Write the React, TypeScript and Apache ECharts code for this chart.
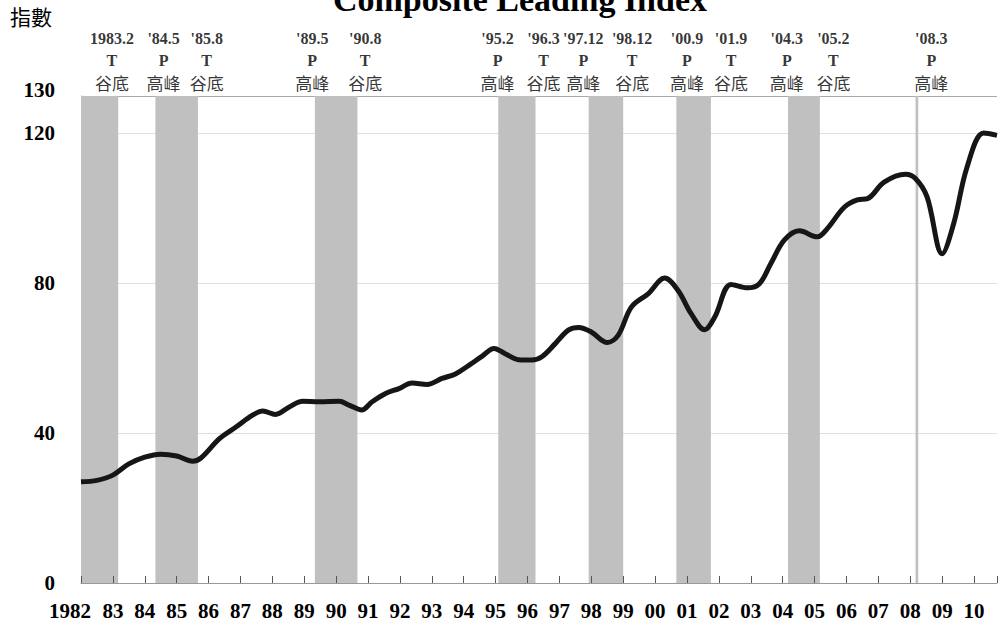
import React, { useEffect, useRef } from "react";
import * as echarts from "echarts";

// Composite leading index readings (decimal year, index value)
const years = [
  1982.0, 1982.5, 1983.0, 1983.5, 1984.0, 1984.5, 1985.0, 1985.5, 1985.75,
  1986.35, 1986.87, 1987.38, 1987.7, 1988.1, 1988.53, 1988.95, 1989.47,
  1990.1, 1990.4, 1990.8, 1991.13, 1991.55, 1991.97, 1992.38, 1992.85,
  1993.32, 1993.74, 1994.16, 1994.57, 1994.95, 1995.3, 1995.72, 1996.13,
  1996.45, 1996.87, 1997.28, 1997.6, 1998.0, 1998.5, 1998.84, 1999.26,
  1999.78, 2000.3, 2000.72, 2001.13, 2001.55, 2001.87, 2002.38, 2002.9,
  2003.27, 2003.63, 2004.05, 2004.52, 2005.09, 2005.4, 2005.93, 2006.34,
  2006.66, 2007.18, 2007.85, 2008.17, 2008.53, 2009.0, 2009.36, 2009.78,
  2010.3, 2010.72,
];
const values = [
  27.0, 27.4, 28.8, 31.8, 33.6, 34.4, 33.9, 32.5, 33.3,
  38.6, 41.7, 44.8, 45.9, 45.0, 47.0, 48.5, 48.4,
  48.5, 47.5, 46.2, 48.4, 50.6, 51.9, 53.4, 53.0,
  54.6, 55.8, 58.1, 60.5, 62.6, 61.2, 59.6, 59.5,
  60.4, 63.9, 67.5, 68.2, 67.0, 64.2, 66.1, 73.7,
  77.2, 81.4, 78.1, 71.9, 67.6, 71.0, 79.7, 78.8,
  79.9, 85.3, 91.5, 94.0, 92.4, 94.6, 100.3, 102.3,
  102.6, 107.0, 109.1, 107.9, 103.0, 87.9, 95.9, 111.0,
  120.1, 119.5,
];

// Turning points (year, month)
const peakDates = ["1984.5", "1989.5", "1995.2", "1997.12", "2000.9", "2004.3", "2008.3"];
const troughDates = ["1983.2", "1985.8", "1990.8", "1996.3", "1998.12", "2001.9", "2005.2"];

// Annotation texts above the chart
const turnLabels = ["1983.2", "'84.5", "'85.8", "'89.5", "'90.8", "'95.2", "'96.3", "'97.12", "'98.12", "'00.9", "'01.9", "'04.3", "'05.2", "'08.3"];
const turnTypes = ["T", "P", "T", "P", "T", "P", "T", "P", "T", "P", "T", "P", "T", "P"];
const turnLabelAt = [1982.97, 1984.59, 1985.94, 1989.25, 1990.91, 1995.06, 1996.5, 1997.75, 1999.28, 2001.0, 2002.38, 2004.13, 2005.59, 2008.66];

const X_MIN = 1982;
const X_MAX = 2010.72;
const Y_MIN = 0;
const Y_MAX = 130;
const Y_STEP = 40;

const titleText = "Composite Leading Index";
const yName = "指數";

function monthStart(d: string) {
  const [y, m] = d.split(".").map(Number);
  return y + (m - 1) / 12;
}
function monthEnd(d: string) {
  const [y, m] = d.split(".").map(Number);
  return y + m / 12;
}

export default function App() {
  const ref = useRef<HTMLDivElement>(null);
  useEffect(() => {
    document.body.style.margin = "0";
    const chart = echarts.init(ref.current!, null, { renderer: "svg" });
    const serif = "'Liberation Serif', 'Times New Roman', serif";
    const cjk = "'Noto Sans CJK TC', 'Noto Sans CJK SC', sans-serif";

    // recession bands: first band starts before the axis minimum
    const starts = [X_MIN, ...peakDates.map(monthStart)];
    const ends = [...troughDates.map(monthEnd), monthEnd(peakDates[peakDates.length - 1])];
    const bands = starts.map((s, i) => [{ xAxis: s }, { xAxis: ends[i] }]);

    const lineData = years.map((y, i) => [y, values[i]]);
    const annData = turnLabelAt.map((x, i) => ({
      value: [x, Y_MAX],
      label: {
        formatter:
          "{d|" + turnLabels[i] + "}\n{p|" + turnTypes[i] + "}\n{c|" + (turnTypes[i] === "P" ? "高峰" : "谷底") + "}",
      },
    }));

    chart.setOption({
      animation: false,
      backgroundColor: "#ffffff",
      grid: { left: 81, right: 0, top: 96, bottom: 48, containLabel: false },
      graphic: [
        {
          type: "text",
          x: 520,
          y: -1,
          style: {
            text: titleText,
            font: "bold 34px " + serif,
            fill: "#000",
            textAlign: "center",
            textVerticalAlign: "middle",
          },
        },
        {
          type: "text",
          x: 31,
          y: 16,
          style: {
            text: yName,
            font: "21px " + cjk,
            fill: "#000",
            textAlign: "center",
            textVerticalAlign: "middle",
          },
        },
      ],
      xAxis: {
        type: "value",
        min: X_MIN,
        max: X_MAX,
        interval: 1,
        z: 5,
        axisLine: { show: true, lineStyle: { color: "#999", width: 1 } },
        axisTick: { show: true, inside: true, length: 7, lineStyle: { color: "#555" } },
        splitLine: { show: false },
        axisLabel: {
          showMinLabel: true,
          showMaxLabel: true,
          margin: 17,
          color: "#000",
          fontFamily: serif,
          fontWeight: "bold",
          fontSize: 21,
          formatter: (v: number) => {
            const r = Math.round(v * 1000) / 1000;
            if (!Number.isInteger(r)) return "";
            if (r === X_MIN) return "{f|" + r + "}";
            return String(r % 100).padStart(2, "0");
          },
          rich: {
            f: { fontFamily: serif, fontWeight: "bold", fontSize: 21, color: "#000", padding: [0, 22, 0, 0] },
          },
        },
      },
      yAxis: {
        type: "value",
        min: Y_MIN,
        max: Y_MAX,
        interval: Y_STEP,
        axisLine: { show: true, lineStyle: { color: "#999", width: 1 } },
        axisTick: { show: true, inside: true, length: 6, lineStyle: { color: "#666" } },
        splitLine: { show: true, lineStyle: { color: ["#e0e0e0", "#e0e0e0", "#e0e0e0", "#e0e0e0", "#aaaaaa"], width: 1 } },
        axisLabel: {
          margin: 26,
          color: "#000",
          fontFamily: serif,
          fontWeight: "bold",
          fontSize: 21,
          formatter: (v: number) => (v === Y_MAX ? "{t|" + v + "}" : String(v)),
          rich: {
            t: { fontFamily: serif, fontWeight: "bold", fontSize: 21, color: "#000", padding: [0, 0, 12, 0] },
          },
        },
      },
      series: [
        {
          type: "line",
          data: lineData,
          smooth: 0.35,
          showSymbol: false,
          symbol: "none",
          z: 3,
          lineStyle: { color: "#161616", width: 5 },
          markArea: {
            silent: true,
            itemStyle: { color: "#c0c0c0", opacity: 1 },
            data: bands,
          },
        },
        {
          type: "scatter",
          data: annData,
          symbolSize: 0,
          silent: true,
          clip: false,
          z: 4,
          label: {
            show: true,
            position: "top",
            distance: 3,
            color: "#000",
            rich: {
              d: { fontFamily: serif, fontWeight: "bold", fontSize: 16, lineHeight: 22, color: "#000" },
              p: { fontFamily: serif, fontWeight: "bold", fontSize: 16, lineHeight: 22, color: "#000" },
              c: { fontFamily: cjk, fontSize: 17, lineHeight: 22, color: "#000" },
            },
          },
        },
      ],
    });
    return () => chart.dispose();
  }, []);
  return <div ref={ref} style={{ position: "fixed", left: 0, top: 0, width: 1000, height: 631 }} />;
}
